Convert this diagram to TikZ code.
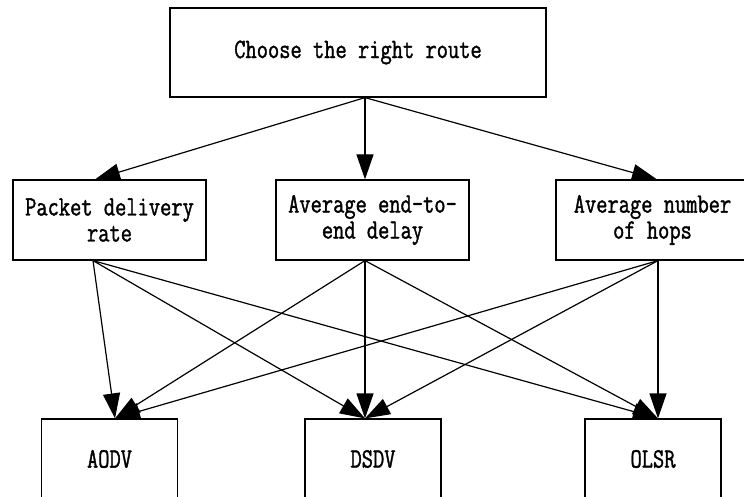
\documentclass[tikz,border=0pt]{standalone}
\usepackage{fontspec}
\setmonofont[FakeStretch=0.78,FakeBold=1.3]{Latin Modern Mono}
\usetikzlibrary{arrows.meta}
\newcommand{\w}{193pt}

\begin{document}
\begin{tikzpicture}[x=1pt, y=-1pt,
    box/.style={draw, rectangle, line width=1.2pt, minimum width=\w, minimum height=80pt, inner sep=0pt, align=center, font=\ttfamily\fontsize{28}{26}\selectfont},
    arr/.style={line width=1.2pt, -{Triangle[length=25pt,width=17pt]}}]
    \useasboundingbox (0,0) rectangle (744,497);

    % Top
    \node[box, minimum width=376pt, minimum height=89pt] (route) at (358,52.5) {Choose the right route};

    % Criteria
    \node[box] (pdr) at (109.5,220) {Packet delivery\\rate};
    \node[box] (ete) at (372.5,220) {Average end-to-\\end delay};
    \node[box] (hops) at (652.5,220) {Average number\\of hops};

    % Protocols
    \node[box, minimum width=136pt] (aodv) at (109.5,459) {AODV};
    \node[box, minimum width=136pt] (dsdv) at (373,459) {DSDV};
    \node[box, minimum width=136pt] (olsr) at (653,459) {OLSR};

    % Connection points
    \coordinate (route-out) at ([xshift=7pt]route.south);
    \coordinate (pdr-in) at ([xshift=-14.5pt]pdr.north);
    \coordinate (pdr-out) at ([xshift=-16.5pt]pdr.south);
    \coordinate (ete-in) at ([xshift=-7.5pt]ete.north);
    \coordinate (ete-out) at ([xshift=-7.5pt]ete.south);
    \coordinate (hops-in) at ([xshift=4.5pt]hops.north);
    \coordinate (hops-out) at ([xshift=5.5pt]hops.south);
    \coordinate (aodv-in) at ([xshift=5.5pt]aodv.north);
    \coordinate (dsdv-in) at ([xshift=-8pt]dsdv.north);
    \coordinate (olsr-in) at ([xshift=5pt]olsr.north);

    \draw[arr] (route-out) -- (pdr-in);
    \draw[arr] (route-out) -- (ete-in);
    \draw[arr] (route-out) -- (hops-in);

    \draw[arr] (pdr-out) -- (aodv-in);
    \draw[arr] (pdr-out) -- (dsdv-in);
    \draw[arr] (pdr-out) -- (olsr-in);
    \draw[arr] (ete-out) -- (aodv-in);
    \draw[arr] (ete-out) -- (dsdv-in);
    \draw[arr] (ete-out) -- (olsr-in);
    \draw[arr] (hops-out) -- (aodv-in);
    \draw[arr] (hops-out) -- (dsdv-in);
    \draw[arr] (hops-out) -- (olsr-in);

\end{tikzpicture}
\end{document}
